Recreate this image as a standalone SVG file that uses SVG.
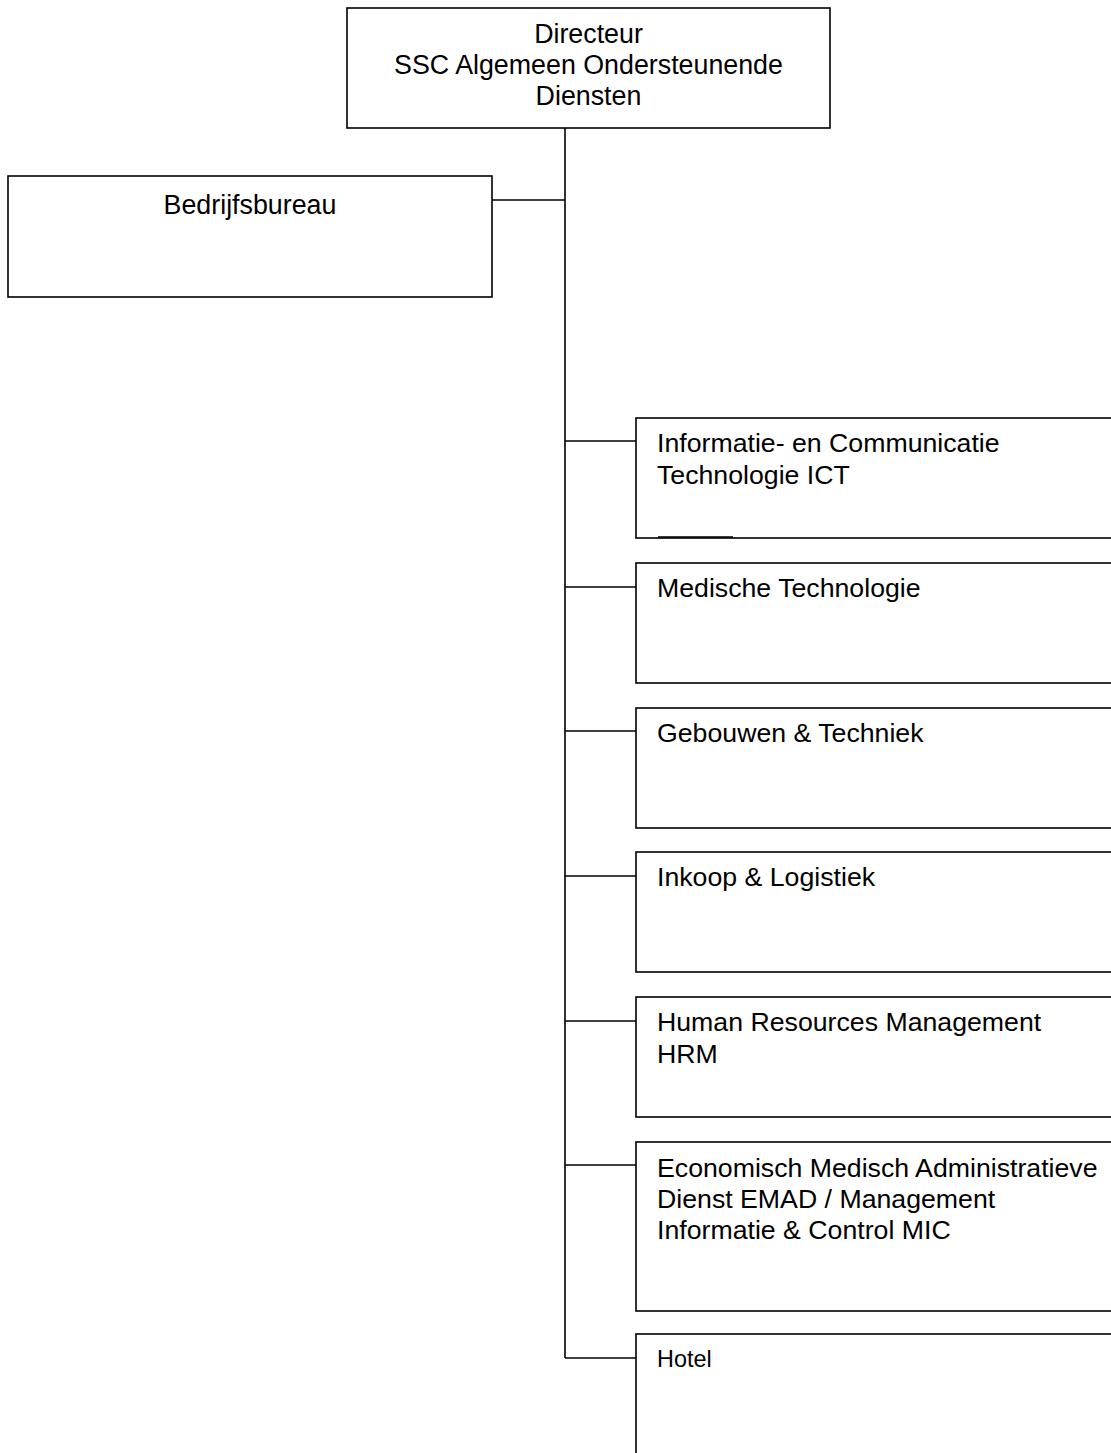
<svg xmlns="http://www.w3.org/2000/svg" width="1111" height="1453" viewBox="0 0 1111 1453">
<style>
.box{fill:#fff;stroke:#000;stroke-width:1.6}
.ln{fill:none;stroke:#000;stroke-width:1.6}
.t{font-family:"Liberation Sans",Arial,sans-serif;fill:#000}
.big{font-size:26.8px}
.mid{font-size:26.7px}
.sm{font-size:23.4px}
</style>
<rect width="1111" height="1453" fill="#fff"/>
<g id="connectors">
<line class="ln" x1="565" y1="128" x2="565" y2="1358"/>
<line class="ln" x1="492" y1="200" x2="565" y2="200"/>
<line class="ln" x1="565" y1="441" x2="636" y2="441"/>
<line class="ln" x1="565" y1="587" x2="636" y2="587"/>
<line class="ln" x1="565" y1="731" x2="636" y2="731"/>
<line class="ln" x1="565" y1="876" x2="636" y2="876"/>
<line class="ln" x1="565" y1="1021" x2="636" y2="1021"/>
<line class="ln" x1="565" y1="1165" x2="636" y2="1165"/>
<line class="ln" x1="565" y1="1358" x2="636" y2="1358"/>
</g>
<g id="directeur">
<rect class="box" x="347" y="8" width="483" height="120"/>
<text class="t big" text-anchor="middle" x="588.5" y="43">Directeur</text>
<text class="t big" text-anchor="middle" x="588.5" y="74">SSC Algemeen Ondersteunende</text>
<text class="t big" text-anchor="middle" x="588.5" y="105">Diensten</text>
</g>
<g id="bedrijfsbureau">
<rect class="box" x="8" y="176" width="484" height="121"/>
<text class="t big" text-anchor="middle" x="250" y="214">Bedrijfsbureau</text>
</g>
<g id="ict">
<rect class="box" x="636" y="418" width="500" height="120"/>
<text class="t mid" x="657" y="452">Informatie- en Communicatie</text>
<text class="t mid" x="657" y="484">Technologie ICT</text>
<line class="ln" x1="658" y1="537" x2="733" y2="537" stroke-width="2"/>
</g>
<g id="medisch">
<rect class="box" x="636" y="563" width="500" height="120"/>
<text class="t mid" x="657" y="597">Medische Technologie</text>
</g>
<g id="gebouwen">
<rect class="box" x="636" y="708" width="500" height="120"/>
<text class="t mid" x="657" y="742">Gebouwen &amp; Techniek</text>
</g>
<g id="inkoop">
<rect class="box" x="636" y="852" width="500" height="120"/>
<text class="t mid" x="657" y="886">Inkoop &amp; Logistiek</text>
</g>
<g id="hrm">
<rect class="box" x="636" y="997" width="500" height="120"/>
<text class="t mid" x="657" y="1031">Human Resources Management</text>
<text class="t mid" x="657" y="1063">HRM</text>
</g>
<g id="emad">
<rect class="box" x="636" y="1142" width="500" height="169"/>
<text class="t mid" x="657" y="1177">Economisch Medisch Administratieve</text>
<text class="t mid" x="657" y="1208">Dienst EMAD / Management</text>
<text class="t mid" x="657" y="1239">Informatie &amp; Control MIC</text>
</g>
<g id="hotel">
<rect class="box" x="636" y="1334" width="500" height="160"/>
<text class="t sm" x="657" y="1367">Hotel</text>
</g>
</svg>
